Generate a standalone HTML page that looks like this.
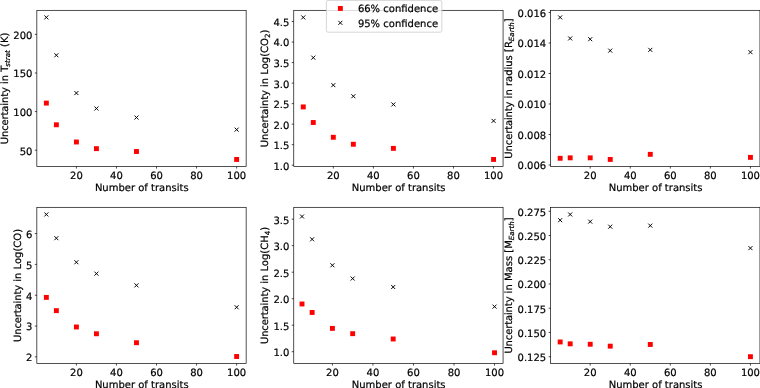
<!DOCTYPE html>
<html><head><meta charset="utf-8"><title>Uncertainty vs number of transits</title>
<style>html,body{margin:0;padding:0;background:#fff}svg{display:block;will-change:transform}text{font-family:"DejaVu Sans","Liberation Sans",sans-serif;font-size:10px;fill:#000;text-rendering:geometricPrecision;stroke:#000;stroke-width:0.2px}.ax{fill:none;stroke:#000;stroke-width:0.68}.tk{stroke:#000;stroke-width:0.7}.xm{stroke:#000;stroke-width:0.98;fill:none}.sq{fill:#f00}</style></head><body>
<svg width="760" height="388" viewBox="0 0 760 388">
<rect width="760" height="388" fill="#fff"/>
<g>
<rect class="ax" x="36.84" y="10.32" width="209.3" height="156.23"/>
<line class="tk" x1="76.4" y1="166.55" x2="76.4" y2="168.55"/>
<text x="76.4" y="178.6" text-anchor="middle">20</text>
<line class="tk" x1="116.45" y1="166.55" x2="116.45" y2="168.55"/>
<text x="116.45" y="178.6" text-anchor="middle">40</text>
<line class="tk" x1="156.51" y1="166.55" x2="156.51" y2="168.55"/>
<text x="156.51" y="178.6" text-anchor="middle">60</text>
<line class="tk" x1="196.57" y1="166.55" x2="196.57" y2="168.55"/>
<text x="196.57" y="178.6" text-anchor="middle">80</text>
<line class="tk" x1="236.63" y1="166.55" x2="236.63" y2="168.55"/>
<text x="236.63" y="178.6" text-anchor="middle">100</text>
<text x="141.79" y="190.8" text-anchor="middle" font-size="9.9">Number of transits</text>
<line class="tk" x1="34.84" y1="150.19" x2="36.84" y2="150.19"/>
<text x="32.39" y="154.59" text-anchor="end">50</text>
<line class="tk" x1="34.84" y1="111.59" x2="36.84" y2="111.59"/>
<text x="32.39" y="115.99" text-anchor="end">100</text>
<line class="tk" x1="34.84" y1="73" x2="36.84" y2="73"/>
<text x="32.39" y="77.4" text-anchor="end">150</text>
<line class="tk" x1="34.84" y1="34.4" x2="36.84" y2="34.4"/>
<text x="32.39" y="38.8" text-anchor="end">200</text>
<text transform="translate(8.1 88.44) rotate(-90)" text-anchor="middle" xml:space="preserve"><tspan letter-spacing="-0.125">Uncertainty</tspan> in T<tspan dy="1.8" dx="-1.1" font-size="7.1" font-style="italic">strat</tspan><tspan dy="-1.8" dx="0"> </tspan>(K)</text>
<path class="xm" d="M44.35 15.42L48.35 19.42M44.35 19.42L48.35 15.42M54.37 53.24L58.37 57.24M54.37 57.24L58.37 53.24M74.4 91.07L78.4 95.07M74.4 95.07L78.4 91.07M94.43 106.5L98.43 110.5M94.43 110.5L98.43 106.5M134.48 115.54L138.48 119.54M134.48 119.54L138.48 115.54M234.63 127.65L238.63 131.65M234.63 131.65L238.63 127.65"/>
<rect class="sq" x="43.9" y="100.65" width="4.9" height="4.9"/>
<rect class="sq" x="53.92" y="122.34" width="4.9" height="4.9"/>
<rect class="sq" x="73.95" y="139.55" width="4.9" height="4.9"/>
<rect class="sq" x="93.98" y="146.19" width="4.9" height="4.9"/>
<rect class="sq" x="134.03" y="149.05" width="4.9" height="4.9"/>
<rect class="sq" x="234.18" y="157" width="4.9" height="4.9"/>
</g>
<g>
<rect class="ax" x="293.76" y="10.32" width="209.3" height="156.23"/>
<line class="tk" x1="333.32" y1="166.55" x2="333.32" y2="168.55"/>
<text x="333.32" y="178.6" text-anchor="middle">20</text>
<line class="tk" x1="373.37" y1="166.55" x2="373.37" y2="168.55"/>
<text x="373.37" y="178.6" text-anchor="middle">40</text>
<line class="tk" x1="413.43" y1="166.55" x2="413.43" y2="168.55"/>
<text x="413.43" y="178.6" text-anchor="middle">60</text>
<line class="tk" x1="453.49" y1="166.55" x2="453.49" y2="168.55"/>
<text x="453.49" y="178.6" text-anchor="middle">80</text>
<line class="tk" x1="493.55" y1="166.55" x2="493.55" y2="168.55"/>
<text x="493.55" y="178.6" text-anchor="middle">100</text>
<text x="398.71" y="190.8" text-anchor="middle" font-size="9.9">Number of transits</text>
<line class="tk" x1="291.76" y1="165.2" x2="293.76" y2="165.2"/>
<text x="289.31" y="169.6" text-anchor="end">1.0</text>
<line class="tk" x1="291.76" y1="144.67" x2="293.76" y2="144.67"/>
<text x="289.31" y="149.07" text-anchor="end">1.5</text>
<line class="tk" x1="291.76" y1="124.15" x2="293.76" y2="124.15"/>
<text x="289.31" y="128.55" text-anchor="end">2.0</text>
<line class="tk" x1="291.76" y1="103.62" x2="293.76" y2="103.62"/>
<text x="289.31" y="108.02" text-anchor="end">2.5</text>
<line class="tk" x1="291.76" y1="83.1" x2="293.76" y2="83.1"/>
<text x="289.31" y="87.5" text-anchor="end">3.0</text>
<line class="tk" x1="291.76" y1="62.57" x2="293.76" y2="62.57"/>
<text x="289.31" y="66.97" text-anchor="end">3.5</text>
<line class="tk" x1="291.76" y1="42.05" x2="293.76" y2="42.05"/>
<text x="289.31" y="46.45" text-anchor="end">4.0</text>
<line class="tk" x1="291.76" y1="21.53" x2="293.76" y2="21.53"/>
<text x="289.31" y="25.93" text-anchor="end">4.5</text>
<text transform="translate(268.2 88.44) rotate(-90)" text-anchor="middle" xml:space="preserve"><tspan letter-spacing="-0.125">Uncertainty</tspan> in Log(CO<tspan dy="1.8" dx="0" font-size="7.1">2</tspan><tspan dy="-1.8" dx="0">)</tspan></text>
<path class="xm" d="M301.27 15.42L305.27 19.42M301.27 19.42L305.27 15.42M311.29 55.65L315.29 59.65M311.29 59.65L315.29 55.65M331.32 83.15L335.32 87.15M331.32 87.15L335.32 83.15M351.35 94.23L355.35 98.23M351.35 98.23L355.35 94.23M391.4 102.44L395.4 106.44M391.4 106.44L395.4 102.44M491.55 118.86L495.55 122.86M491.55 122.86L495.55 118.86"/>
<rect class="sq" x="300.82" y="104.46" width="4.9" height="4.9"/>
<rect class="sq" x="310.84" y="120.06" width="4.9" height="4.9"/>
<rect class="sq" x="330.87" y="134.83" width="4.9" height="4.9"/>
<rect class="sq" x="350.9" y="141.81" width="4.9" height="4.9"/>
<rect class="sq" x="390.95" y="145.92" width="4.9" height="4.9"/>
<rect class="sq" x="491.1" y="157" width="4.9" height="4.9"/>
</g>
<g>
<rect class="ax" x="550.65" y="10.32" width="209.3" height="156.23"/>
<line class="tk" x1="590.21" y1="166.55" x2="590.21" y2="168.55"/>
<text x="590.21" y="178.6" text-anchor="middle">20</text>
<line class="tk" x1="630.26" y1="166.55" x2="630.26" y2="168.55"/>
<text x="630.26" y="178.6" text-anchor="middle">40</text>
<line class="tk" x1="670.32" y1="166.55" x2="670.32" y2="168.55"/>
<text x="670.32" y="178.6" text-anchor="middle">60</text>
<line class="tk" x1="710.38" y1="166.55" x2="710.38" y2="168.55"/>
<text x="710.38" y="178.6" text-anchor="middle">80</text>
<line class="tk" x1="750.44" y1="166.55" x2="750.44" y2="168.55"/>
<text x="750.44" y="178.6" text-anchor="middle">100</text>
<text x="655.6" y="190.8" text-anchor="middle" font-size="9.9">Number of transits</text>
<line class="tk" x1="548.65" y1="165" x2="550.65" y2="165"/>
<text x="546.2" y="169.4" text-anchor="end">0.006</text>
<line class="tk" x1="548.65" y1="134.5" x2="550.65" y2="134.5"/>
<text x="546.2" y="138.9" text-anchor="end">0.008</text>
<line class="tk" x1="548.65" y1="104" x2="550.65" y2="104"/>
<text x="546.2" y="108.4" text-anchor="end">0.010</text>
<line class="tk" x1="548.65" y1="73.5" x2="550.65" y2="73.5"/>
<text x="546.2" y="77.9" text-anchor="end">0.012</text>
<line class="tk" x1="548.65" y1="43.01" x2="550.65" y2="43.01"/>
<text x="546.2" y="47.41" text-anchor="end">0.014</text>
<line class="tk" x1="548.65" y1="12.51" x2="550.65" y2="12.51"/>
<text x="546.2" y="16.91" text-anchor="end">0.016</text>
<text transform="translate(512.3 88.44) rotate(-90)" text-anchor="middle" xml:space="preserve"><tspan letter-spacing="-0.125">Uncertainty</tspan> in radius [R<tspan dy="1.8" dx="0" font-size="7.1" font-style="italic">Earth</tspan><tspan dy="-1.8" dx="0">]</tspan></text>
<path class="xm" d="M558.16 15.42L562.16 19.42M558.16 19.42L562.16 15.42M568.18 36.43L572.18 40.43M568.18 40.43L572.18 36.43M588.21 37.19L592.21 41.19M588.21 41.19L592.21 37.19M608.24 48.63L612.24 52.63M608.24 52.63L612.24 48.63M648.29 47.87L652.29 51.87M648.29 51.87L652.29 47.87M748.44 50.16L752.44 54.16M748.44 54.16L752.44 50.16"/>
<rect class="sq" x="557.71" y="155.84" width="4.9" height="4.9"/>
<rect class="sq" x="567.73" y="155.38" width="4.9" height="4.9"/>
<rect class="sq" x="587.76" y="155.38" width="4.9" height="4.9"/>
<rect class="sq" x="607.79" y="157" width="4.9" height="4.9"/>
<rect class="sq" x="647.84" y="151.88" width="4.9" height="4.9"/>
<rect class="sq" x="747.99" y="154.93" width="4.9" height="4.9"/>
</g>
<g>
<rect class="ax" x="36.84" y="207.32" width="209.3" height="156.26"/>
<line class="tk" x1="76.4" y1="363.58" x2="76.4" y2="365.58"/>
<text x="76.4" y="375.63" text-anchor="middle">20</text>
<line class="tk" x1="116.45" y1="363.58" x2="116.45" y2="365.58"/>
<text x="116.45" y="375.63" text-anchor="middle">40</text>
<line class="tk" x1="156.51" y1="363.58" x2="156.51" y2="365.58"/>
<text x="156.51" y="375.63" text-anchor="middle">60</text>
<line class="tk" x1="196.57" y1="363.58" x2="196.57" y2="365.58"/>
<text x="196.57" y="375.63" text-anchor="middle">80</text>
<line class="tk" x1="236.63" y1="363.58" x2="236.63" y2="365.58"/>
<text x="236.63" y="375.63" text-anchor="middle">100</text>
<text x="141.79" y="387.83" text-anchor="middle" font-size="9.9">Number of transits</text>
<line class="tk" x1="34.84" y1="356.9" x2="36.84" y2="356.9"/>
<text x="32.39" y="361.3" text-anchor="end">2</text>
<line class="tk" x1="34.84" y1="326.07" x2="36.84" y2="326.07"/>
<text x="32.39" y="330.47" text-anchor="end">3</text>
<line class="tk" x1="34.84" y1="295.23" x2="36.84" y2="295.23"/>
<text x="32.39" y="299.63" text-anchor="end">4</text>
<line class="tk" x1="34.84" y1="264.4" x2="36.84" y2="264.4"/>
<text x="32.39" y="268.8" text-anchor="end">5</text>
<line class="tk" x1="34.84" y1="233.56" x2="36.84" y2="233.56"/>
<text x="32.39" y="237.96" text-anchor="end">6</text>
<text transform="translate(21.3 285.45) rotate(-90)" text-anchor="middle" xml:space="preserve"><tspan letter-spacing="-0.125">Uncertainty</tspan> in Log(CO)</text>
<path class="xm" d="M44.35 212.44L48.35 216.44M44.35 216.44L48.35 212.44M54.37 236.19L58.37 240.19M54.37 240.19L58.37 236.19M74.4 260.24L78.4 264.24M74.4 264.24L78.4 260.24M94.43 271.65L98.43 275.65M94.43 275.65L98.43 271.65M134.48 283.36L138.48 287.36M134.48 287.36L138.48 283.36M234.63 305.26L238.63 309.26M234.63 309.26L238.63 305.26"/>
<rect class="sq" x="43.9" y="294.94" width="4.9" height="4.9"/>
<rect class="sq" x="53.92" y="308.2" width="4.9" height="4.9"/>
<rect class="sq" x="73.95" y="324.54" width="4.9" height="4.9"/>
<rect class="sq" x="93.98" y="331.32" width="4.9" height="4.9"/>
<rect class="sq" x="134.03" y="340.27" width="4.9" height="4.9"/>
<rect class="sq" x="234.18" y="354.05" width="4.9" height="4.9"/>
</g>
<g>
<rect class="ax" x="293.76" y="207.32" width="209.3" height="156.26"/>
<line class="tk" x1="332.41" y1="363.58" x2="332.41" y2="365.58"/>
<text x="332.41" y="375.63" text-anchor="middle">20</text>
<line class="tk" x1="372.94" y1="363.58" x2="372.94" y2="365.58"/>
<text x="372.94" y="375.63" text-anchor="middle">40</text>
<line class="tk" x1="413.47" y1="363.58" x2="413.47" y2="365.58"/>
<text x="413.47" y="375.63" text-anchor="middle">60</text>
<line class="tk" x1="454" y1="363.58" x2="454" y2="365.58"/>
<text x="454" y="375.63" text-anchor="middle">80</text>
<line class="tk" x1="494.53" y1="363.58" x2="494.53" y2="365.58"/>
<text x="494.53" y="375.63" text-anchor="middle">100</text>
<text x="398.71" y="387.83" text-anchor="middle" font-size="9.9">Number of transits</text>
<line class="tk" x1="291.76" y1="351.7" x2="293.76" y2="351.7"/>
<text x="289.31" y="356.1" text-anchor="end">1.0</text>
<line class="tk" x1="291.76" y1="325.19" x2="293.76" y2="325.19"/>
<text x="289.31" y="329.59" text-anchor="end">1.5</text>
<line class="tk" x1="291.76" y1="298.69" x2="293.76" y2="298.69"/>
<text x="289.31" y="303.09" text-anchor="end">2.0</text>
<line class="tk" x1="291.76" y1="272.18" x2="293.76" y2="272.18"/>
<text x="289.31" y="276.58" text-anchor="end">2.5</text>
<line class="tk" x1="291.76" y1="245.67" x2="293.76" y2="245.67"/>
<text x="289.31" y="250.07" text-anchor="end">3.0</text>
<line class="tk" x1="291.76" y1="219.16" x2="293.76" y2="219.16"/>
<text x="289.31" y="223.56" text-anchor="end">3.5</text>
<text transform="translate(268.2 285.45) rotate(-90)" text-anchor="middle" xml:space="preserve"><tspan letter-spacing="-0.125">Uncertainty</tspan> in Log(CH<tspan dy="1.8" dx="0" font-size="7.1">4</tspan><tspan dy="-1.8" dx="0">)</tspan></text>
<path class="xm" d="M300.01 214.51L304.01 218.51M300.01 218.51L304.01 214.51M310.14 237.31L314.14 241.31M310.14 241.31L314.14 237.31M330.41 263.28L334.41 267.28M330.41 267.28L334.41 263.28M350.67 276.54L354.67 280.54M350.67 280.54L354.67 276.54M391.2 285.02L395.2 289.02M391.2 289.02L395.2 285.02M492.53 304.64L496.53 308.64M492.53 308.64L496.53 304.64"/>
<rect class="sq" x="299.56" y="301.54" width="4.9" height="4.9"/>
<rect class="sq" x="309.69" y="310.02" width="4.9" height="4.9"/>
<rect class="sq" x="329.96" y="325.93" width="4.9" height="4.9"/>
<rect class="sq" x="350.22" y="331.23" width="4.9" height="4.9"/>
<rect class="sq" x="390.75" y="336.53" width="4.9" height="4.9"/>
<rect class="sq" x="492.08" y="350.31" width="4.9" height="4.9"/>
</g>
<g>
<rect class="ax" x="550.65" y="207.32" width="209.3" height="156.26"/>
<line class="tk" x1="590.21" y1="363.58" x2="590.21" y2="365.58"/>
<text x="590.21" y="375.63" text-anchor="middle">20</text>
<line class="tk" x1="630.26" y1="363.58" x2="630.26" y2="365.58"/>
<text x="630.26" y="375.63" text-anchor="middle">40</text>
<line class="tk" x1="670.32" y1="363.58" x2="670.32" y2="365.58"/>
<text x="670.32" y="375.63" text-anchor="middle">60</text>
<line class="tk" x1="710.38" y1="363.58" x2="710.38" y2="365.58"/>
<text x="710.38" y="375.63" text-anchor="middle">80</text>
<line class="tk" x1="750.44" y1="363.58" x2="750.44" y2="365.58"/>
<text x="750.44" y="375.63" text-anchor="middle">100</text>
<text x="655.6" y="387.83" text-anchor="middle" font-size="9.9">Number of transits</text>
<line class="tk" x1="548.65" y1="356.69" x2="550.65" y2="356.69"/>
<text x="546.2" y="361.09" text-anchor="end">0.125</text>
<line class="tk" x1="548.65" y1="332.46" x2="550.65" y2="332.46"/>
<text x="546.2" y="336.86" text-anchor="end">0.150</text>
<line class="tk" x1="548.65" y1="308.23" x2="550.65" y2="308.23"/>
<text x="546.2" y="312.63" text-anchor="end">0.175</text>
<line class="tk" x1="548.65" y1="284" x2="550.65" y2="284"/>
<text x="546.2" y="288.4" text-anchor="end">0.200</text>
<line class="tk" x1="548.65" y1="259.76" x2="550.65" y2="259.76"/>
<text x="546.2" y="264.16" text-anchor="end">0.225</text>
<line class="tk" x1="548.65" y1="235.53" x2="550.65" y2="235.53"/>
<text x="546.2" y="239.93" text-anchor="end">0.250</text>
<line class="tk" x1="548.65" y1="211.3" x2="550.65" y2="211.3"/>
<text x="546.2" y="215.7" text-anchor="end">0.275</text>
<text transform="translate(512.3 285.45) rotate(-90)" text-anchor="middle" xml:space="preserve"><tspan letter-spacing="-0.125">Uncertainty</tspan> in Mass [M<tspan dy="1.8" dx="0" font-size="7.1" font-style="italic">Earth</tspan><tspan dy="-1.8" dx="0">]</tspan></text>
<path class="xm" d="M558.16 218.16L562.16 222.16M558.16 222.16L562.16 218.16M568.18 212.47L572.18 216.47M568.18 216.47L572.18 212.47M588.21 219.63L592.21 223.63M588.21 223.63L592.21 219.63M608.24 224.68L612.24 228.68M608.24 228.68L612.24 224.68M648.29 223.63L652.29 227.63M648.29 227.63L652.29 223.63M748.44 246.13L752.44 250.13M748.44 250.13L752.44 246.13"/>
<rect class="sq" x="557.71" y="339.5" width="4.9" height="4.9"/>
<rect class="sq" x="567.73" y="341.39" width="4.9" height="4.9"/>
<rect class="sq" x="587.76" y="341.81" width="4.9" height="4.9"/>
<rect class="sq" x="607.79" y="343.71" width="4.9" height="4.9"/>
<rect class="sq" x="647.84" y="342.02" width="4.9" height="4.9"/>
<rect class="sq" x="747.99" y="354.24" width="4.9" height="4.9"/>
</g>
<g>
<rect x="326.4" y="0.4" width="115.4" height="31.8" rx="1.6" ry="1.6" fill="#fff" fill-opacity="0.8" stroke="#ccc" stroke-width="0.8"/>
<rect class="sq" x="337.9" y="6" width="4.9" height="4.9"/>
<path class="xm" d="M338.35 20.85L342.35 24.85M338.35 24.85L342.35 20.85"/>
<text x="357.9" y="12.15" font-size="9.88">66% confidence</text>
<text x="357.9" y="27.0" font-size="9.88">95% confidence</text>
</g>
</svg></body></html>
